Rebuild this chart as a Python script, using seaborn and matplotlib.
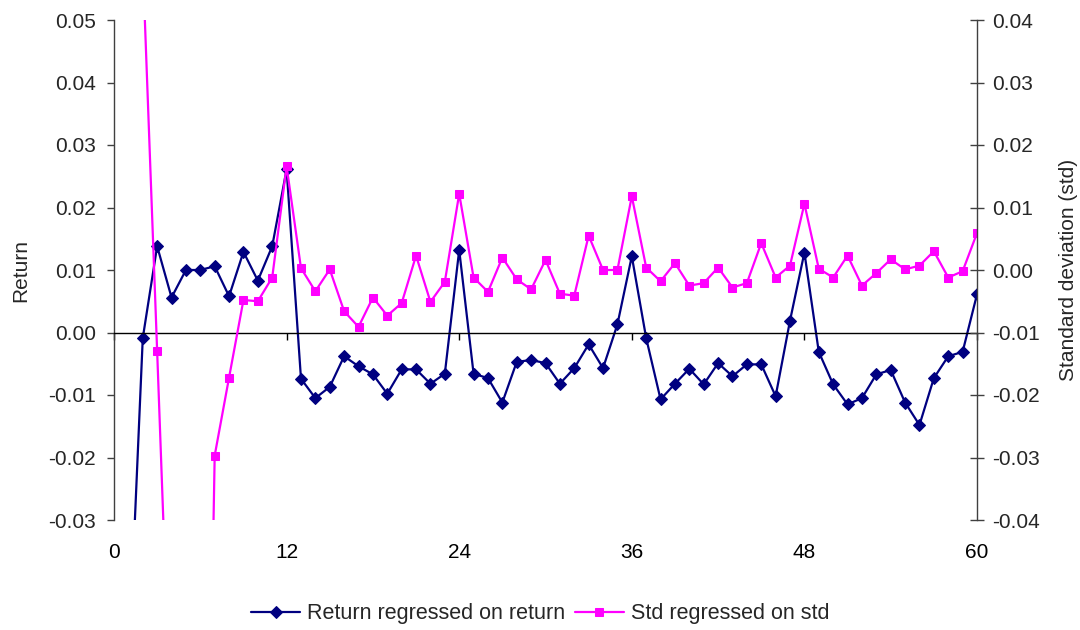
import matplotlib
matplotlib.use("Agg")
import matplotlib.pyplot as plt
import seaborn as sns
import numpy as np
import pandas as pd

# Lags (months) 1..60
lags = list(range(1, 61))

# Coefficient of return regressed on lagged return (left axis)
ret_on_ret = [
    -0.054, -0.0009, 0.0138, 0.0056, 0.0100, 0.0100, 0.0106, 0.0058, 0.0129, 0.0083,
    0.0138, 0.0261, -0.0074, -0.0105, -0.0087, -0.0038, -0.0054, -0.0067, -0.0098, -0.0059,
    -0.0059, -0.0082, -0.0066, 0.0132, -0.0066, -0.0073, -0.0112, -0.0047, -0.0044, -0.0049,
    -0.0082, -0.0057, -0.0019, -0.0057, 0.0013, 0.0122, -0.0009, -0.0107, -0.0082, -0.0058,
    -0.0083, -0.0049, -0.0070, -0.0051, -0.0051, -0.0102, 0.0019, 0.0128, -0.0031, -0.0083,
    -0.0115, -0.0105, -0.0067, -0.0060, -0.0112, -0.0148, -0.0073, -0.0038, -0.0031, 0.0061,
]

# Coefficient of std regressed on lagged std (right axis)
std_on_std = [
    0.090, 0.049, -0.0130, -0.076, -0.120, -0.160, -0.0297, -0.0172, -0.0048, -0.0050,
    -0.0012, 0.0166, 0.0003, -0.0034, 0.0001, -0.0066, -0.0091, -0.0044, -0.0073, -0.0053,
    0.0023, -0.0051, -0.0019, 0.0122, -0.0012, -0.0035, 0.0020, -0.0015, -0.0031, 0.0016,
    -0.0038, -0.0041, 0.0055, 0.0000, 0.0000, 0.0118, 0.0004, -0.0018, 0.0011, -0.0025,
    -0.0021, 0.0004, -0.0028, -0.0021, 0.0043, -0.0012, 0.0007, 0.0106, 0.0002, -0.0012,
    0.0023, -0.0025, -0.0005, 0.0017, 0.0001, 0.0007, 0.0030, -0.0012, -0.0002, 0.0059,
]

x_ticks = [0, 12, 24, 36, 48, 60]
left_ticks = [-0.03, -0.02, -0.01, 0.00, 0.01, 0.02, 0.03, 0.04, 0.05]
right_ticks = [-0.04, -0.03, -0.02, -0.01, 0.00, 0.01, 0.02, 0.03, 0.04]

NAVY = "#000080"
MAGENTA = "#FF00FF"
FS = 15

sns.set_theme(style="white")
plt.rcParams["font.family"] = ["Liberation Sans", "DejaVu Sans"]

df = pd.DataFrame({"lag": lags, "ret": ret_on_ret, "std": std_on_std})

fig = plt.figure(figsize=(10.8, 6.3), dpi=100)
ax = fig.add_axes([114 / 1080, 1 - 520 / 630, (977 - 114) / 1080, 500 / 630])
ax2 = ax.twinx()

sns.lineplot(data=df, x="lag", y="ret", ax=ax, color=NAVY, linewidth=1.6,
             marker="D", markersize=6.5, markeredgecolor=NAVY, markerfacecolor=NAVY,
             label="Return regressed on return", legend=False)
sns.lineplot(data=df, x="lag", y="std", ax=ax2, color=MAGENTA, linewidth=1.6,
             marker="s", markersize=6, markeredgecolor=MAGENTA, markerfacecolor=MAGENTA,
             label="Std regressed on std", legend=False)

ax.set_xlim(0, 60)
ax.set_ylim(-0.03, 0.05)
ax2.set_ylim(-0.04, 0.04)

ax.set_xticks(x_ticks)
ax.set_yticks(left_ticks)
ax.set_yticklabels([f"{v:.2f}" for v in left_ticks])
ax2.set_yticks(right_ticks)
ax2.set_yticklabels([f"{v:.2f}" for v in right_ticks])

for a in (ax, ax2):
    a.grid(False)
    a.spines["top"].set_visible(False)
    a.set_xlabel("")

# category axis crosses at zero; labels stay at the bottom
ax.spines["bottom"].set_position(("data", 0))
ax.spines["bottom"].set_color("black")
ax.spines["bottom"].set_linewidth(1.0)
ax.tick_params(axis="x", which="both", direction="out", length=5, width=1,
               color="black", labelbottom=False, bottom=True)
ax2.spines["bottom"].set_visible(False)

lab = ax.secondary_xaxis("bottom")
lab.set_xticks(x_ticks)
lab.set_xticklabels([str(t) for t in x_ticks])
lab.spines["bottom"].set_visible(False)
lab.tick_params(axis="x", length=0, pad=16.5, labelsize=FS, labelcolor="black")

ax.spines["left"].set_color("#404040")
ax.spines["left"].set_linewidth(1.0)
ax.spines["right"].set_visible(False)
ax2.spines["left"].set_visible(False)
ax2.spines["right"].set_color("#404040")
ax2.spines["right"].set_linewidth(1.0)

ax.tick_params(axis="y", direction="out", length=5, width=1, color="#404040",
               labelsize=FS, pad=8, left=True)
ax2.tick_params(axis="y", direction="inout", length=10, width=1, color="#404040",
                labelsize=FS, pad=6, right=True)

ax.set_ylabel("Return", fontsize=FS, labelpad=13)
ax2.set_ylabel("Standard deviation (std)", fontsize=FS, labelpad=14)

h1, l1 = ax.get_legend_handles_labels()
h2, l2 = ax2.get_legend_handles_labels()
fig.legend(h1 + h2, l1 + l2, loc="center", bbox_to_anchor=(0.5, 1 - 614 / 630),
           ncol=2, frameon=False, fontsize=15.5, handlelength=2.3, columnspacing=0.45,
           handletextpad=0.3)

fig.savefig("out.png", dpi=100)
